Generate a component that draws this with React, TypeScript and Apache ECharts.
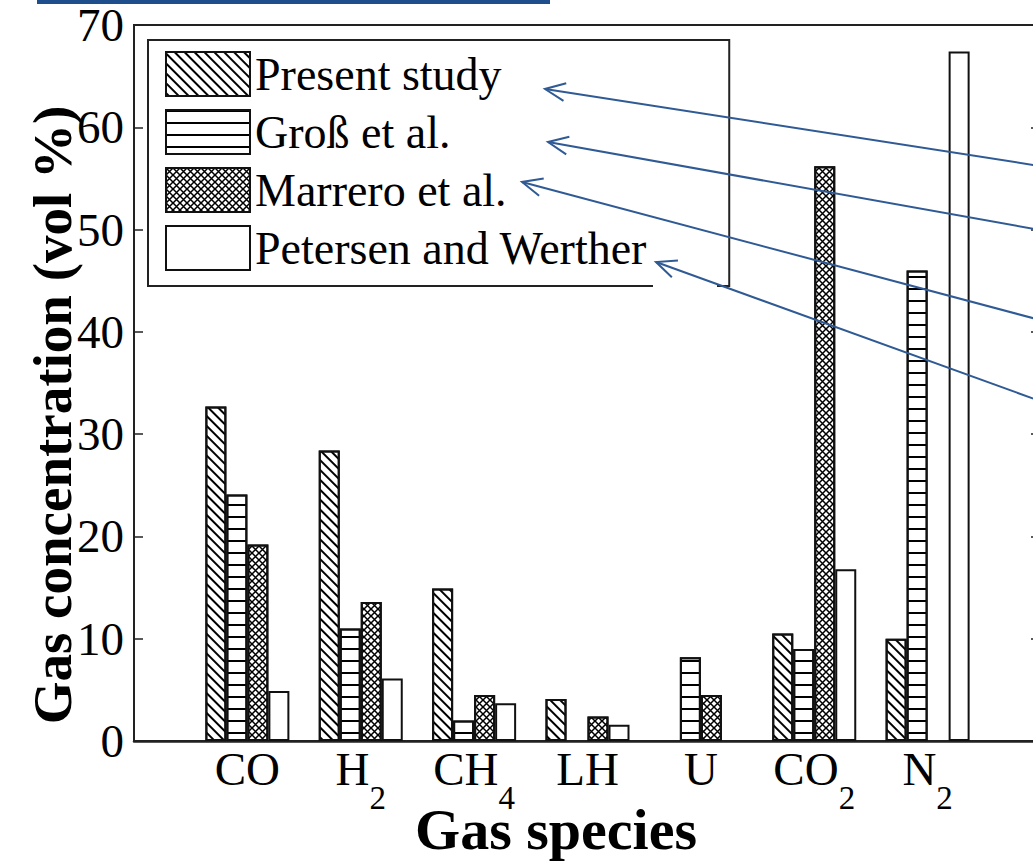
import { useEffect, useRef } from 'react';
import * as echarts from 'echarts';

// ---- data ----
const categories = ['CO', 'H2', 'CH4', 'LH', 'U', 'CO2', 'N2'];
const seriesNames = ['Present study', 'Groß et al.', 'Marrero et al.', 'Petersen and Werther'];
const presentStudy = [32.7, 28.4, 14.9, 4.1, null, 10.5, 10.0];
const grossEtAl = [24.1, 11.0, 2.0, null, 8.2, 9.0, 46.0];
const marreroEtAl = [19.2, 13.6, 4.5, 2.4, 4.5, 56.2, null];
const petersenWerther = [4.9, 6.1, 3.7, 1.6, null, 16.8, 67.4];
const yMin = 0;
const yMax = 70;
const yInterval = 10;

const SERIF = '"Liberation Serif", "Times New Roman", serif';

function labelRich(name: string): string {
  if (!name) return '';
  return name
    .split(/(\d+)/)
    .filter((p) => p.length > 0)
    .map((p) => (/^\d+$/.test(p) ? `{s|${p}}` : `{m|${p}}`))
    .join('');
}

function arrowGraphics(tail: number[], tip: number[], color: string) {
  const dx = tail[0] - tip[0];
  const dy = tail[1] - tip[1];
  const len = Math.hypot(dx, dy);
  const ux = dx / len;
  const uy = dy / len;
  const a = (24 * Math.PI) / 180;
  const L = 22;
  const c = Math.cos(a);
  const s = Math.sin(a);
  const p1 = [tip[0] + L * (ux * c - uy * s), tip[1] + L * (ux * s + uy * c)];
  const p2 = [tip[0] + L * (ux * c + uy * s), tip[1] + L * (-ux * s + uy * c)];
  return [
    {
      type: 'line',
      z: 100,
      shape: { x1: tail[0], y1: tail[1], x2: tip[0], y2: tip[1] },
      style: { stroke: color, lineWidth: 2 },
    },
    {
      type: 'polyline',
      z: 100,
      shape: { points: [p1, tip, p2] },
      style: { stroke: color, fill: null, lineWidth: 2 },
    },
  ];
}

export default function App() {
  const ref = useRef<HTMLDivElement>(null);

  useEffect(() => {
    if (!ref.current) return;
    const chart = echarts.init(ref.current, null, { renderer: 'svg' });

    const pad = (arr: (number | null)[]) => [null, ...arr, null];
    const xData = ['', ...categories, ''];

    const decals = [
      {
        symbol: 'rect',
        color: '#000',
        dashArrayX: [1, 0],
        dashArrayY: [2, 5],
        rotation: Math.PI / 4,
      },
      {
        symbol: 'rect',
        color: '#000',
        dashArrayX: [1, 0],
        dashArrayY: [2, 10],
        rotation: 0,
      },
      {
        symbol: 'path://M0 0H1.5L10 8.5V10H8.5L0 1.5Z M8.5 0H10V1.5L1.5 10H0V8.5Z',
        color: '#000',
        dashArrayX: [7, 0],
        dashArrayY: [7, 0],
        rotation: 0,
      },
      null,
    ];
    const values = [presentStudy, grossEtAl, marreroEtAl, petersenWerther];

    const blue = '#2F5A94';
    const arrows = [
      { tail: [1040, 166], tip: [545, 89] },
      { tail: [1040, 230], tip: [548, 142] },
      { tail: [1040, 320], tip: [522, 182] },
      { tail: [1040, 401], tip: [656, 262] },
    ];

    const option: any = {
      animation: false,
      backgroundColor: '#fff',
      grid: {
        left: 134,
        right: -8,
        top: 25,
        bottom: 120,
        outerBoundsMode: 'none',
        containLabel: false,
        show: true,
        borderColor: '#222',
        borderWidth: 2,
        backgroundColor: 'transparent',
      },
      legend: {
        orient: 'vertical',
        left: 148,
        top: 40,
        padding: [11, 82, 15, 17],
        itemWidth: 84,
        itemHeight: 44,
        itemGap: 12,
        borderColor: '#222',
        borderWidth: 2,
        selectedMode: false,
        icon: 'rect',
        textStyle: { fontFamily: SERIF, fontSize: 46, color: '#000' },
        data: seriesNames,
      },
      xAxis: {
        type: 'category',
        data: xData,
        boundaryGap: false,
        axisTick: { show: false },
        axisLine: { lineStyle: { color: '#222', width: 2.5 } },
        axisLabel: {
          interval: 0,
          margin: 4,
          formatter: (v: string) => labelRich(v),
          rich: {
            m: { fontFamily: SERIF, fontSize: 47, color: '#000', padding: [0, 0, 29, 0] },
            s: { fontFamily: SERIF, fontSize: 33, color: '#000', padding: [29, 0, 0, 0] },
          },
        },
        splitLine: { show: false },
      },
      yAxis: [
        {
          type: 'value',
          min: yMin,
          max: yMax,
          interval: yInterval,
          axisLine: { show: true, lineStyle: { color: '#222', width: 2 } },
          axisTick: { show: true, inside: true, length: 9, lineStyle: { color: '#222', width: 1.5 } },
          axisLabel: { fontFamily: SERIF, fontSize: 47, color: '#000', margin: 10 },
          splitLine: { show: false },
        },
        {
          type: 'value',
          position: 'right',
          min: yMin,
          max: yMax,
          interval: yInterval,
          axisLine: { show: true, lineStyle: { color: '#222', width: 2 } },
          axisTick: { show: true, inside: true, length: 10, lineStyle: { color: '#222', width: 1.5 } },
          axisLabel: { show: false },
          splitLine: { show: false },
        },
      ],
      series: seriesNames.map((name, i) => ({
        name,
        type: 'bar',
        yAxisIndex: 0,
        data: pad(values[i]),
        barWidth: 21,
        barGap: '0%',
        itemStyle: {
          color: '#fff',
          borderColor: '#111',
          borderWidth: 2,
          ...(decals[i] ? { decal: decals[i] } : {}),
        },
        emphasis: { disabled: true },
      })),
      graphic: [
        {
          type: 'rect',
          z: 100,
          shape: { x: 37, y: 0, width: 513, height: 4 },
          style: { fill: '#1F4E8C' },
        },
        {
          type: 'rect',
          z: 90,
          shape: { x: 653, y: 281, width: 64, height: 8 },
          style: { fill: '#fff' },
        },
        {
          type: 'text',
          z: 100,
          x: 52,
          y: 415,
          rotation: Math.PI / 2,
          style: {
            text: 'Gas concentration (vol %)',
            fontFamily: SERIF,
            fontWeight: 'bold',
            fontSize: 55,
            fill: '#000',
            textAlign: 'center',
            textVerticalAlign: 'middle',
          },
        },
        {
          type: 'text',
          z: 100,
          x: 556,
          y: 829,
          style: {
            text: 'Gas species',
            fontFamily: SERIF,
            fontWeight: 'bold',
            fontSize: 58,
            fill: '#000',
            textAlign: 'center',
            textVerticalAlign: 'middle',
          },
        },
        ...arrows.flatMap((a) => arrowGraphics(a.tail, a.tip, blue)),
      ],
    };

    chart.setOption(option);
    return () => chart.dispose();
  }, []);

  return (
    <div
      ref={ref}
      style={{ position: 'absolute', left: 0, top: 0, width: 1033, height: 861 }}
    />
  );
}
